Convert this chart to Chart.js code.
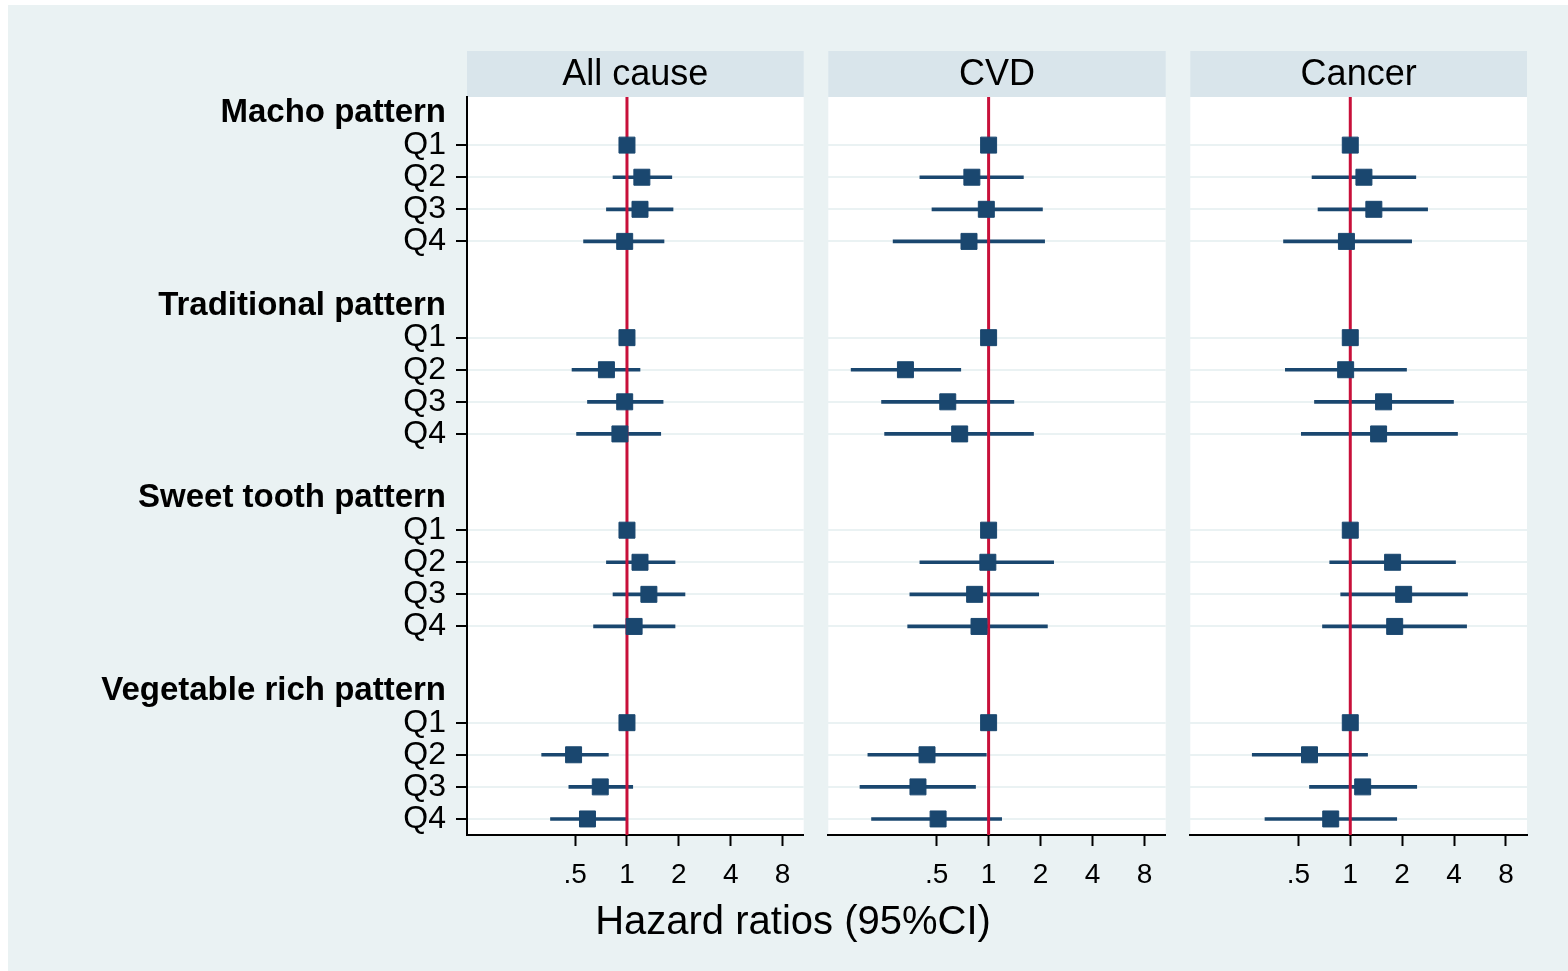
<!DOCTYPE html>
<html>
<head>
<meta charset="utf-8">
<script src="https://cdn.jsdelivr.net/npm/chart.js@4"></script>
<style>
  body { margin: 0; background: #fff; width: 1568px; height: 971px; overflow: hidden; font-family: "Liberation Sans", Arial, sans-serif; }
  #bg { position: absolute; left: 8px; top: 5px; width: 1560px; height: 966px; background: #eaf2f3; }
  canvas { position: absolute; top: 5px; }
  #xtitle { position: absolute; left: 593px; width: 400px; top: 900px; text-align: center; font-size: 40px; line-height: 1; color: #000; white-space: nowrap; }
</style>
</head>
<body>
<div id="bg"></div>
<canvas id="graficoAll" width="808" height="966" style="left:8px"></canvas>
<canvas id="graficoCvd" width="362" height="966" style="left:816px"></canvas>
<canvas id="graficoCancer" width="362" height="966" style="left:1178px"></canvas>
<div id="xtitle">Hazard ratios (95%CI)</div>
<script>
// --- Dados ---
const causes = ['All cause', 'CVD', 'Cancer'];
const patterns = ['Macho pattern', 'Traditional pattern', 'Sweet tooth pattern', 'Vegetable rich pattern'];
const quartiles = ['Q1', 'Q2', 'Q3', 'Q4'];
const xTicks = [0.5, 1, 2, 4, 8];
const refHR = 1;

// hazard ratios, pattern by pattern, Q1..Q4 (Q1 = reference)
const hrAll = [1, 1.22, 1.19, 0.97,  1, 0.76, 0.97, 0.91,  1, 1.19, 1.34, 1.10,  1, 0.49, 0.70, 0.59];
const loAll = [null, 0.83, 0.76, 0.56,  null, 0.48, 0.59, 0.51,  null, 0.76, 0.83, 0.64,  null, 0.32, 0.46, 0.36];
const hiAll = [null, 1.82, 1.85, 1.64,  null, 1.19, 1.62, 1.57,  null, 1.90, 2.17, 1.90,  null, 0.78, 1.08, 0.99];

const hrCvd = [1, 0.80, 0.97, 0.77,  1, 0.33, 0.58, 0.68,  1, 0.99, 0.83, 0.88,  1, 0.44, 0.39, 0.51];
const loCvd = [null, 0.40, 0.47, 0.28,  null, 0.16, 0.24, 0.25,  null, 0.40, 0.35, 0.34,  null, 0.20, 0.18, 0.21];
const hiCvd = [null, 1.59, 2.05, 2.11,  null, 0.69, 1.40, 1.82,  null, 2.38, 1.95, 2.19,  null, 0.97, 0.84, 1.19];

const hrCancer = [1, 1.20, 1.37, 0.95,  1, 0.94, 1.56, 1.46,  1, 1.76, 2.04, 1.81,  1, 0.58, 1.18, 0.77];
const loCancer = [null, 0.60, 0.65, 0.41,  null, 0.42, 0.62, 0.52,  null, 0.76, 0.88, 0.69,  null, 0.27, 0.58, 0.32];
const hiCancer = [null, 2.40, 2.81, 2.27,  null, 2.12, 3.97, 4.19,  null, 4.08, 4.79, 4.73,  null, 1.26, 2.43, 1.86];

// --- Linhas do eixo y: cabeçalho, Q1..Q4, linha vazia ---
const rowsPerPattern = quartiles.length + 2;
const rowLabels = [];
patterns.forEach((p, i) => {
    rowLabels.push(p);
    quartiles.forEach(q => rowLabels.push(q));
    if (i < patterns.length - 1) rowLabels.push('');
});
const tickVal = c => (c && c.tick) ? c.tick.value : -1;
const isHeader = v => patterns.includes(rowLabels[v]);
const isQ = v => quartiles.includes(rowLabels[v]);
const rowOf = k => Math.floor(k / quartiles.length) * rowsPerPattern + 1 + (k % quartiles.length);

const FONT = '"Liberation Sans", Arial, sans-serif';
const navy = '#1a476f';
const red = '#c8103a';

const panelPlugin = {
    id: 'panel',
    beforeDraw(chart, args, opts) {
        const { ctx, chartArea: a } = chart;
        ctx.save();
        ctx.fillStyle = '#ffffff';
        ctx.fillRect(a.left, a.top, a.right - a.left, a.bottom - a.top);
        ctx.fillStyle = '#d9e5eb';
        ctx.fillRect(a.left, a.top - 46, a.right - a.left, 46);
        ctx.fillStyle = '#000';
        ctx.font = '36px ' + FONT;
        ctx.textAlign = 'center';
        ctx.textBaseline = 'middle';
        ctx.fillText(opts.title, (a.left + a.right) / 2, a.top - 22);
        ctx.restore();
    }
};

function forestChart(id, title, hr, lo, hi, first, pad) {
    const ciData = [];
    hr.forEach((v, k) => { if (lo[k] != null) ciData.push({ y: rowOf(k), x: [lo[k], hi[k]] }); });
    const pts = hr.map((v, k) => ({ x: v, y: rowOf(k) }));
    const yMin = -0.5, yMax = rowLabels.length - 0.5;

    return new Chart(document.getElementById(id), {
        type: 'scatter',
        data: {
            datasets: [
                { type: 'scatter', data: pts, pointStyle: 'rect', pointRadius: 11.3, pointHoverRadius: 11.3,
                  backgroundColor: navy, borderColor: navy, borderWidth: 1, order: 0 },
                { type: 'line', data: [{ x: refHR, y: yMin }, { x: refHR, y: yMax }], borderColor: red,
                  borderWidth: 3, pointRadius: 0, order: 1 },
                { type: 'bar', indexAxis: 'y', data: ciData, backgroundColor: navy, borderWidth: 0,
                  barThickness: 3, order: 2 }
            ]
        },
        options: {
            responsive: false,
            animation: false,
            events: [],
            layout: { padding: { top: 92, left: pad[0], right: pad[1], bottom: 0 } },
            plugins: { legend: { display: false }, tooltip: { enabled: false }, panel: { title: title } },
            scales: {
                x: {
                    type: 'logarithmic',
                    bounds: 'data',
                    offset: false,
                    min: 0.118, max: 10.6,
                    afterBuildTicks: s => { s.ticks = xTicks.map(v => ({ value: v })); },
                    afterFit: s => { s.height = 136; },
                    border: { display: true, color: '#000', width: 2 },
                    grid: { offset: false, drawOnChartArea: false, drawTicks: true, tickLength: 11, tickColor: '#000', tickWidth: 2 },
                    ticks: { color: '#000', font: { family: FONT, size: 28 }, padding: 12, maxRotation: 0, autoSkip: false,
                             callback: v => String(v).replace(/^0\./, '.') }
                },
                y: {
                    type: 'linear',
                    bounds: 'data',
                    offset: false,
                    reverse: true,
                    min: yMin, max: yMax,
                    afterBuildTicks: s => { s.ticks = rowLabels.map((l, i) => ({ value: i })); },
                    afterFit: s => { s.width = first ? 459 : 0; },
                    border: { display: first, color: '#000', width: 2 },
                    grid: {
                        offset: false,
                        color: c => isQ(tickVal(c)) ? '#eaf2f3' : 'rgba(0,0,0,0)',
                        lineWidth: 2,
                        drawTicks: first,
                        tickLength: 11,
                        tickWidth: 2,
                        tickColor: c => isQ(tickVal(c)) ? '#000' : 'rgba(0,0,0,0)'
                    },
                    ticks: {
                        display: first,
                        autoSkip: false,
                        padding: 10,
                        color: '#000',
                        font: c => isHeader(tickVal(c))
                            ? { family: FONT, size: 33, weight: 'bold' }
                            : { family: FONT, size: 32 },
                        callback: v => rowLabels[v]
                    }
                }
            }
        },
        plugins: [panelPlugin]
    });
}

// --- All cause ---
forestChart('graficoAll', causes[0], hrAll, loAll, hiAll, true, [0, 12]);
// --- CVD ---
forestChart('graficoCvd', causes[1], hrCvd, loCvd, hiCvd, false, [12, 12]);
// --- Cancer ---
forestChart('graficoCancer', causes[2], hrCancer, loCancer, hiCancer, false, [12, 13]);
</script>
</body>
</html>
